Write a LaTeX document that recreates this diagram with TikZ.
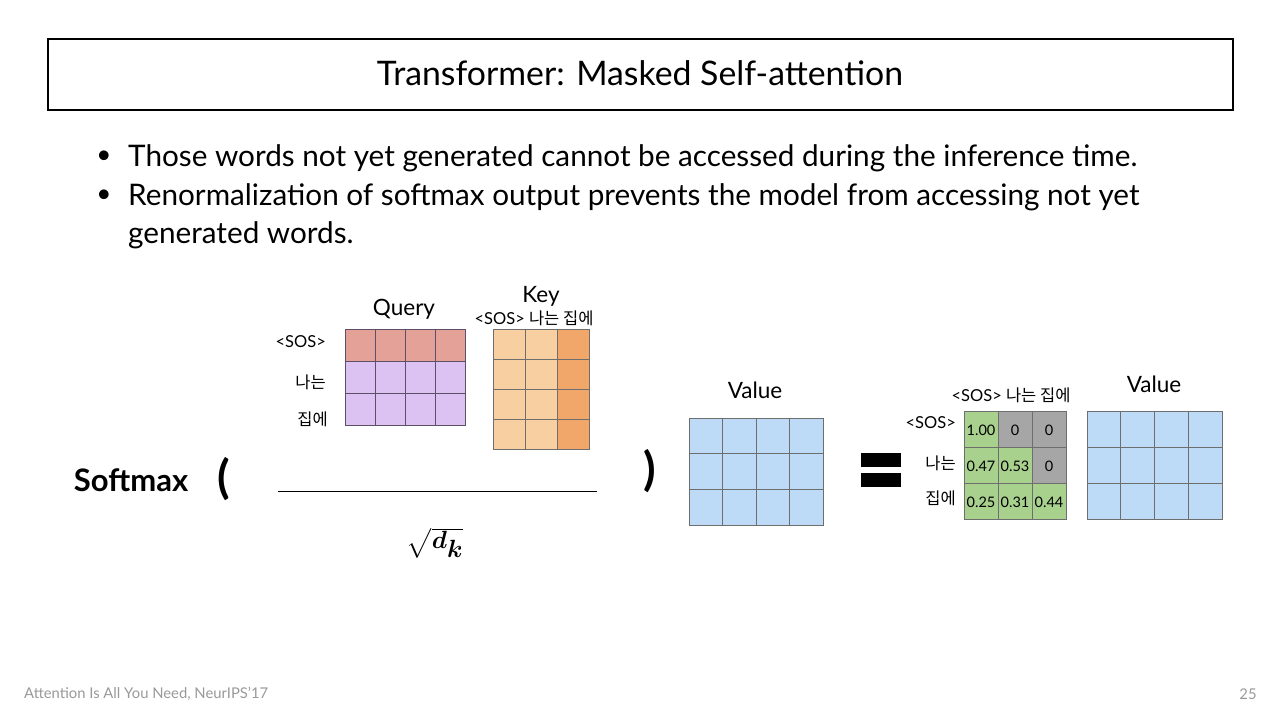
\documentclass[tikz,border=0pt]{standalone}
\usepackage{fontspec}
\usepackage{amsmath}
\usepackage{bm}
\setmainfont{Lato}
\newfontfamily\kr{Noto Sans CJK KR}
\definecolor{qsos}{HTML}{E4A197}
\definecolor{qrow}{HTML}{DCC2F2}
\definecolor{klight}{HTML}{F8CFA0}
\definecolor{kdark}{HTML}{F2A76A}
\definecolor{vblue}{HTML}{BDDAF7}
\definecolor{agreen}{HTML}{A9D18E}
\definecolor{agray}{HTML}{A6A6A6}
\definecolor{gline}{HTML}{6E6E6E}
\definecolor{qline}{HTML}{5E4E66}
\definecolor{foot}{HTML}{999999}
\newcommand{\fs}[1]{\fontsize{#1}{#1}\selectfont}
\tikzset{
  lbl/.style={inner sep=0pt, font=\fs{22.5}},
  small/.style={inner sep=0pt, font=\fs{16.5}},
  cellnum/.style={inner sep=0pt, font=\fs{14.5}},
  gridline/.style={gline, line width=0.8pt},
}
\begin{document}
\begin{tikzpicture}[x=1pt,y=-1pt]
\useasboundingbox (0,0) rectangle (1280,720);
\fill[white] (0,0) rectangle (1280,720);
% title
\node[draw=black, line width=2pt, minimum width=1185pt, minimum height=71pt, inner sep=0pt, anchor=north west] (title) at (47,38) {};
\node[inner sep=0pt, font=\fs{33.8}] (titletext) at (640,73) {Transformer: Masked Self-attention};
% bullets
\node[inner sep=0pt, font=\fs{26}] (b1) at (104,157) {•};
\node[inner sep=0pt, font=\fs{26}] (b2) at (104,196) {•};
\node[anchor=west, inner sep=0pt, font=\fs{29.7}] (t1) at (128,158) {Those words not yet generated cannot be accessed during the inference time.};
\node[anchor=west, inner sep=0pt, font=\fs{29.7}] (t2) at (128,197) {Renormalization of softmax output prevents the model from accessing not yet};
\node[anchor=west, inner sep=0pt, font=\fs{29.7}] (t3) at (128,235) {generated words.};
% Query
\node[lbl] (qlabel) at (404,309) {Query};
\fill[qsos] (345,329) rectangle (465,361);
\fill[qrow] (345,361) rectangle (465,425);
\foreach \i in {1,2,3} \draw[qline, line width=0.8pt] ({345+\i*30},329) -- ({345+\i*30},425);
\foreach \j in {1,2} \draw[qline, line width=0.8pt] (345,{329+\j*32}) -- (465,{329+\j*32});
\draw[qline, line width=0.8pt] (345,329) rectangle (465,425);
\node[small, anchor=east] (qr1) at (326,342) {<SOS>};
\node[small, anchor=east] (qr2) at (326,382) {\kr 나는};
\node[small, anchor=east] (qr3) at (328,419) {\kr 집에};
% Key
\node[lbl] (klabel) at (541,296) {Key};
\node[small] (khead) at (534,318) {<SOS> {\kr 나는 집에}};
\fill[klight] (493,329) rectangle (557,449);
\fill[kdark] (557,329) rectangle (589,449);
\foreach \i in {1,2} \draw[gridline] ({493+\i*32},329) -- ({493+\i*32},449);
\foreach \j in {1,2,3} \draw[gridline] (493,{329+\j*30}) -- (589,{329+\j*30});
\draw[gridline] (493,329) rectangle (589,449);
% Softmax
\node[inner sep=0pt, font=\fs{31}\bfseries] (softmax) at (131,480) {Softmax};
\node[inner sep=0pt, font=\fs{46}\bfseries] (lpar) at (224,479) {(};
\node[inner sep=0pt, font=\fs{46}\bfseries] (rpar) at (650,471) {)};
\coordinate (fracL) at (278,491);
\coordinate (fracR) at (597,491);
\draw[line width=1pt] (fracL) -- (fracR);
\node[inner sep=0pt, font=\fs{33}] (sqrt) at (435,543) {$\sqrt{\bm{d_k}}$};
% Value 1
\node[lbl] (vlabel1) at (755,390) {Value};
\fill[vblue] (689,418) rectangle (823,525);
\foreach \i in {1,2,3} \draw[gridline] ({689+\i*33.5},418) -- ({689+\i*33.5},525);
\foreach \j in {1,2} \draw[gridline] (689,{418+\j*35.67}) -- (823,{418+\j*35.67});
\draw[gridline] (689,418) rectangle (823,525);
% equals
\fill[black] (861,453) rectangle (901,467);
\fill[black] (861,473) rectangle (901,487);
% attention matrix
\node[small] (ahead) at (1011,395) {<SOS> {\kr 나는 집에}};
\node[small, anchor=east] (ar1) at (956,423) {<SOS>};
\node[small, anchor=east] (ar2) at (956,463) {\kr 나는};
\node[small, anchor=east] (ar3) at (956,498) {\kr 집에};
\fill[agreen] (964,411) rectangle (1066,519);
\fill[agray] (998,411) rectangle (1066,447);
\fill[agray] (1032,447) rectangle (1066,483);
\foreach \i in {1,2} \draw[gridline, line width=0.6pt] ({964+\i*34},411) -- ({964+\i*34},519);
\foreach \j in {1,2} \draw[gridline, line width=0.6pt] (964,{411+\j*36}) -- (1066,{411+\j*36});
\draw[gridline, line width=0.6pt] (964,411) rectangle (1066,519);
\node[cellnum] (a11) at (981,430) {1.00};
\node[cellnum] (a12) at (1015,430) {0};
\node[cellnum] (a13) at (1049,430) {0};
\node[cellnum] (a21) at (981,466) {0.47};
\node[cellnum] (a22) at (1015,466) {0.53};
\node[cellnum] (a23) at (1049,466) {0};
\node[cellnum] (a31) at (981,502) {0.25};
\node[cellnum] (a32) at (1015,502) {0.31};
\node[cellnum] (a33) at (1049,502) {0.44};
% Value 2
\node[lbl] (vlabel2) at (1154,384) {Value};
\fill[vblue] (1087,411) rectangle (1222,519);
\foreach \i in {1,2,3} \draw[gridline] ({1087+\i*33.75},411) -- ({1087+\i*33.75},519);
\foreach \j in {1,2} \draw[gridline] (1087,{411+\j*36}) -- (1222,{411+\j*36});
\draw[gridline] (1087,411) rectangle (1222,519);
% footer
\node[anchor=west, inner sep=0pt, font=\fs{14.8}, text=foot] (footer) at (24,694) {Attention Is All You Need, NeurIPS'17};
\node[inner sep=0pt, font=\fs{14.8}, text=foot] (page) at (1248,694) {25};
\end{tikzpicture}
\end{document}
